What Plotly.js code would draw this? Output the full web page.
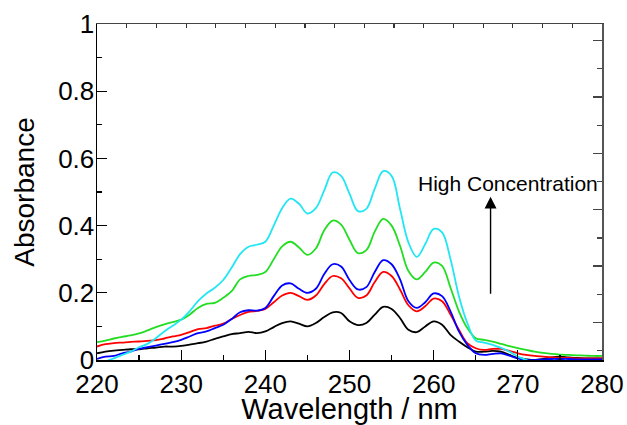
<!DOCTYPE html>
<html>
<head>
<meta charset="utf-8">
<script src="https://cdn.plot.ly/plotly-3.0.1.min.js"></script>
<style>html,body{margin:0;padding:0;background:#fff;}#chart{width:627px;height:425px;}</style>
</head>
<body>
<div id="chart"></div>
<script>
const wavelength = [220,221,222,223,224,225,226,227,228,229,230,231,232,233,234,235,236,237,238,239,240,241,242,243,244,245,246,247,248,249,250,251,252,253,254,255,256,257,258,259,260,261,262,263,264,265,266,267,268,269,270,271,272,273,274,275,276,277,278,279,280];

const absBlack = [0.020,0.025,0.028,0.030,0.032,0.032,0.035,0.037,0.040,0.040,0.042,0.046,0.050,0.055,0.063,0.070,0.077,0.080,0.084,0.080,0.085,0.098,0.110,0.115,0.108,0.100,0.110,0.128,0.142,0.140,0.115,0.104,0.110,0.135,0.158,0.152,0.125,0.090,0.083,0.100,0.115,0.105,0.075,0.055,0.038,0.025,0.025,0.027,0.025,0.015,0.006,0.002,0.000,0.003,0.008,0.010,0.008,0.006,0.005,0.005,0.005];

const absRed = [0.040,0.047,0.050,0.052,0.054,0.055,0.057,0.059,0.064,0.070,0.075,0.083,0.092,0.095,0.102,0.108,0.122,0.134,0.143,0.146,0.152,0.172,0.192,0.200,0.190,0.179,0.192,0.226,0.250,0.243,0.213,0.185,0.192,0.232,0.262,0.250,0.210,0.163,0.145,0.160,0.183,0.175,0.135,0.090,0.050,0.035,0.030,0.033,0.033,0.027,0.020,0.015,0.012,0.010,0.008,0.007,0.006,0.005,0.005,0.005,0.005];

const absBlue = [0.003,0.010,0.012,0.020,0.025,0.033,0.038,0.043,0.048,0.053,0.060,0.070,0.080,0.085,0.095,0.105,0.122,0.142,0.148,0.147,0.155,0.190,0.222,0.228,0.212,0.200,0.212,0.256,0.285,0.278,0.238,0.210,0.217,0.262,0.297,0.285,0.240,0.175,0.155,0.172,0.198,0.190,0.145,0.085,0.045,0.020,0.015,0.018,0.020,0.013,0.005,0.000,0.000,0.002,0.003,0.003,0.003,0.002,0.002,0.002,0.002];

const absGreen = [0.053,0.058,0.064,0.069,0.073,0.079,0.088,0.098,0.106,0.113,0.120,0.135,0.155,0.167,0.170,0.185,0.205,0.240,0.250,0.253,0.262,0.300,0.338,0.352,0.335,0.313,0.332,0.386,0.415,0.403,0.358,0.318,0.327,0.382,0.420,0.400,0.340,0.265,0.240,0.262,0.290,0.280,0.215,0.145,0.095,0.065,0.060,0.055,0.048,0.041,0.035,0.030,0.025,0.021,0.018,0.016,0.015,0.014,0.013,0.012,0.012];

const absCyan = [-0.020,-0.005,0.005,0.015,0.025,0.038,0.048,0.065,0.085,0.102,0.120,0.145,0.175,0.198,0.215,0.238,0.275,0.315,0.337,0.343,0.352,0.400,0.452,0.480,0.465,0.436,0.452,0.505,0.558,0.548,0.495,0.443,0.450,0.510,0.562,0.548,0.450,0.350,0.307,0.345,0.390,0.380,0.300,0.190,0.110,0.058,0.052,0.045,0.036,0.025,0.010,0.000,-0.010,-0.015,-0.020,-0.020,-0.020,-0.020,-0.020,-0.020,-0.020];

const seriesNames = ['c1','c2','c3','c4','c5'];
const seriesColors = ['#000000','#ff0000','#0000ff','#22dd22','#22e6f2'];
const seriesValues = [absBlack, absRed, absBlue, absGreen, absCyan];

const yTickVals = [0,0.2,0.4,0.6,0.8,1];
const yTickText = ['0','0.2','0.4','0.6','0.8','1'];
const xTickVals = [220,230,240,250,260,270,280];
const xTickText = ['220','230','240','250','260','270','280'];

const FONT = 'Liberation Sans, Arial, sans-serif';

const traces = seriesValues.map((v, i) => ({
  x: wavelength, y: v, type: 'scatter', mode: 'lines', name: seriesNames[i],
  line: {color: seriesColors[i], width: 1.8, shape: 'spline', smoothing: 1},
  showlegend: false, hoverinfo: 'skip'
}));
traces.push({x: [], y: [], xaxis: 'x2', yaxis: 'y2', type: 'scatter', mode: 'lines', showlegend: false});

const layout = {
  width: 627, height: 425,
  margin: {l: 97, r: 25, t: 24, b: 65},
  paper_bgcolor: '#fff', plot_bgcolor: '#fff',
  font: {family: FONT, color: '#000'},
  showlegend: false,
  xaxis: {
    range: [220, 280], tickmode: 'array', tickvals: xTickVals, ticktext: xTickText,
    ticks: 'inside', ticklen: 10, tickwidth: 1.2, tickcolor: '#000',
    minor: {dtick: 5, tick0: 220, ticks: 'inside', ticklen: 5, tickwidth: 1.2, tickcolor: '#000'},
    showline: true, linecolor: '#000', linewidth: 1.5, mirror: false,
    showgrid: false, zeroline: false,
    tickfont: {size: 26, family: FONT, color: '#000'},
    title: {text: 'Wavelength / nm', font: {size: 29, family: FONT, color: '#000'}, standoff: 12}
  },
  yaxis: {
    range: [0, 1], tickmode: 'array', tickvals: yTickVals, ticktext: yTickText,
    ticks: 'inside', ticklen: 10, tickwidth: 1.2, tickcolor: '#000',
    minor: {dtick: 0.1, tick0: 0, ticks: 'inside', ticklen: 5, tickwidth: 1.2, tickcolor: '#000'},
    showline: true, linecolor: '#000', linewidth: 1.5,
    showgrid: false, zeroline: false, ticklabelstandoff: -4,
    tickfont: {size: 26, family: FONT, color: '#000'},
    title: {text: 'Absorbance', font: {size: 28, family: FONT, color: '#000'}, standoff: 15}
  },
  xaxis2: {
    overlaying: 'x', side: 'top', anchor: 'y2', range: [0, 17], dtick: 1, tick0: 0,
    ticks: 'inside', ticklen: 4, tickwidth: 1.2, tickcolor: '#333',
    showticklabels: false, showline: true, linecolor: '#444', linewidth: 1.5,
    showgrid: false, zeroline: false
  },
  yaxis2: {
    overlaying: 'y', side: 'right', anchor: 'x2', range: [-0.33, 11.585], tick0: 1, dtick: 2,
    ticks: 'inside', ticklen: 9, tickwidth: 1.2, tickcolor: '#444',
    minor: {dtick: 1, tick0: 0, ticks: 'inside', ticklen: 5, tickwidth: 1.2, tickcolor: '#444'},
    showticklabels: false, showline: true, linecolor: '#555', linewidth: 1.5,
    showgrid: false, zeroline: false
  },
  annotations: [
    {x: 268.8, y: 0.524, xref: 'x', yref: 'y', text: 'High Concentration', showarrow: false,
     font: {size: 21, family: FONT, color: '#000'}, xanchor: 'center', yanchor: 'middle'},
    {x: 266.76, y: 0.486, ax: 266.76, ay: 0.193, xref: 'x', yref: 'y', axref: 'x', ayref: 'y',
     text: '', showarrow: true, arrowhead: 2, arrowsize: 1.7, arrowwidth: 1.4, arrowcolor: '#000'}
  ]
};

Plotly.newPlot('chart', traces, layout, {staticPlot: true, displayModeBar: false});
</script>
</body>
</html>
